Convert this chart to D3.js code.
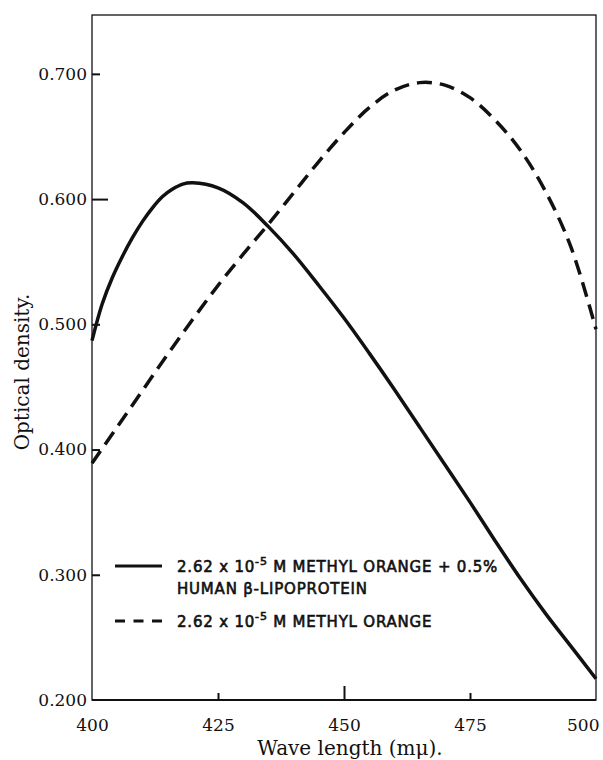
<!DOCTYPE html>
<html>
<head>
<meta charset="utf-8">
<script src="https://cdn.jsdelivr.net/npm/d3@7"></script>
<style>
  body { margin: 0; background: #fff; }
  svg { display: block; }
  .tick text { font-family: "DejaVu Serif", serif; font-size: 17px; fill: #111; }
  .tick line { stroke: #111; stroke-width: 2; }
  .legend { font-family: "DejaVu Sans", sans-serif; font-size: 15px; letter-spacing: 0.8px; fill: #111; stroke: #111; stroke-width: 0.6; }
  .title { font-family: "DejaVu Serif", serif; font-size: 20px; fill: #111; }
</style>
</head>
<body>
<svg width="603" height="760"></svg>
<script>
// values
const xTicks = [400, 425, 450, 475, 500]
const yTicks = [0.200, 0.300, 0.400, 0.500, 0.600, 0.700]

const waveSolid = [400, 402, 404, 406, 408, 410, 412, 414, 416, 418, 420, 425, 430, 435, 440, 445, 450, 455, 460, 465, 470, 475, 480, 485, 490, 495, 500]
const odSolid = [0.487, 0.516, 0.537, 0.554, 0.569, 0.582, 0.593, 0.602, 0.608, 0.612, 0.613, 0.609, 0.597, 0.578, 0.556, 0.531, 0.505, 0.477, 0.448, 0.418, 0.388, 0.358, 0.327, 0.297, 0.269, 0.243, 0.217]

const waveDashed = [400, 405, 410, 415, 420, 425, 430, 435, 440, 445, 450, 455, 460, 465, 470, 475, 480, 485, 490, 495, 500]
const odDashed = [0.389, 0.418, 0.447, 0.476, 0.504, 0.531, 0.556, 0.580, 0.605, 0.630, 0.653, 0.673, 0.687, 0.693, 0.691, 0.681, 0.663, 0.639, 0.606, 0.562, 0.496]

const legendLabels = ["2.62 x 10", "-5", " M METHYL ORANGE + 0.5%", "HUMAN \u03B2-LIPOPROTEIN", "2.62 x 10", "-5", " M METHYL ORANGE"]

var svg = d3.select('svg')

var box = { left: 92, right: 596, top: 15, bottom: 700 }

var x = d3.scaleLinear().domain([400, 500]).range([box.left, box.right])
var y = d3.scaleLinear().domain([0.2, 0.747]).range([box.bottom, box.top])

// frame
svg.append('rect')
  .attr('x', box.left)
  .attr('y', box.top)
  .attr('width', box.right - box.left)
  .attr('height', box.bottom - box.top)
  .attr('fill', 'none')
  .attr('stroke', '#111')
  .attr('stroke-width', 1.3)

svg.append('line')
  .attr('x1', box.left).attr('x2', box.right)
  .attr('y1', box.bottom).attr('y2', box.bottom)
  .attr('stroke', '#111').attr('stroke-width', 2)

var yAxis = svg.append('g')
  .attr('transform', `translate(${box.left},0)`)
  .call(d3.axisLeft(y).tickValues(yTicks).tickSize(-8).tickSizeOuter(0).tickPadding(5).tickFormat(d3.format('.3f')))
yAxis.select('.domain').remove()
yAxis.selectAll('.tick').filter(d => d == 0.2).select('line').remove()
yAxis.selectAll('.tick').filter(d => d == 0.6).select('line').attr('x2', 16)

var xAxis = svg.append('g')
  .attr('transform', `translate(0,${box.bottom})`)
  .call(d3.axisBottom(x).tickValues(xTicks).tickSize(-7).tickSizeOuter(0).tickPadding(19).tickFormat(d3.format('d')))
xAxis.select('.domain').remove()
xAxis.selectAll('.tick').filter(d => d == 400 || d == 500).select('line').remove()
xAxis.selectAll('.tick').filter(d => d == 450).select('line').attr('y2', -14)
// end labels sit inside the page
xAxis.selectAll('.tick').filter(d => d == 500).select('text').attr('text-anchor', 'end').attr('x', 3)

// curves
var line = d3.line()
  .x(d => x(d[0]))
  .y(d => y(d[1]))
  .curve(d3.curveCatmullRom.alpha(0.5))

svg.append('path')
  .datum(waveSolid.map((w, i) => [w, odSolid[i]]))
  .attr('d', line)
  .attr('fill', 'none')
  .attr('stroke', '#111')
  .attr('stroke-width', 3.5)

svg.append('path')
  .datum(waveDashed.map((w, i) => [w, odDashed[i]]))
  .attr('d', line)
  .attr('fill', 'none')
  .attr('stroke', '#111')
  .attr('stroke-width', 3.5)
  .attr('stroke-dasharray', '15,8')

// legend
var legend = svg.append('g')

legend.append('line')
  .attr('x1', 115).attr('x2', 162)
  .attr('y1', 566).attr('y2', 566)
  .attr('stroke', '#111').attr('stroke-width', 3)

legend.append('line')
  .attr('x1', 115).attr('x2', 162)
  .attr('y1', 621).attr('y2', 621)
  .attr('stroke', '#111').attr('stroke-width', 3)
  .attr('stroke-dasharray', '10,8.5')

var t1 = legend.append('text').attr('class', 'legend').attr('x', 177).attr('y', 572)
t1.append('tspan').text(legendLabels[0])
t1.append('tspan').attr('dy', -7).attr('font-size', 11).text(legendLabels[1])
t1.append('tspan').attr('dy', 7).text(legendLabels[2])

legend.append('text').attr('class', 'legend').attr('x', 177).attr('y', 594).text(legendLabels[3])

var t2 = legend.append('text').attr('class', 'legend').attr('x', 177).attr('y', 627)
t2.append('tspan').text(legendLabels[4])
t2.append('tspan').attr('dy', -7).attr('font-size', 11).text(legendLabels[5])
t2.append('tspan').attr('dy', 7).text(legendLabels[6])

// axis titles
svg.append('text')
  .attr('class', 'title')
  .attr('text-anchor', 'middle')
  .attr('x', 350)
  .attr('y', 755)
  .text('Wave length (m\u03BC).')

svg.append('text')
  .attr('class', 'title')
  .attr('text-anchor', 'middle')
  .attr('font-size', 21)
  .attr('transform', 'translate(29,372) rotate(-90)')
  .text('Optical density.')
</script>
</body>
</html>
